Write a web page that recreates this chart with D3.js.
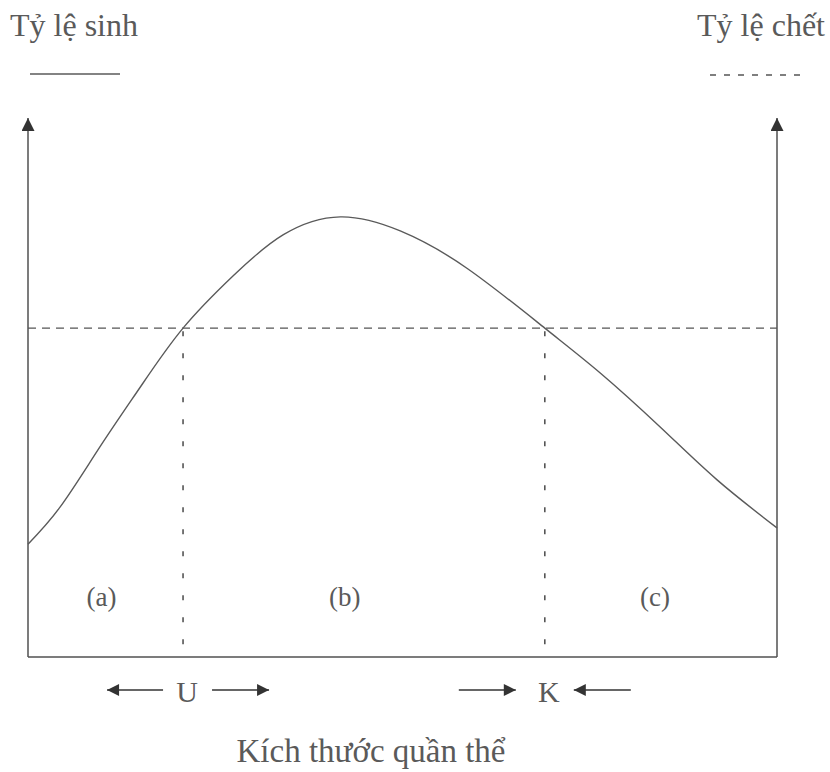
<!DOCTYPE html>
<html>
  <head>
    <meta charset="utf-8">
    <title>Tỷ lệ sinh, tỷ lệ chết và kích thước quần thể</title>
    <script src="https://cdn.jsdelivr.net/npm/d3@7"></script>
    <style>
      body { margin: 0; background: #fff; }
      svg { display: block; }
      text { font-family: "Liberation Serif", "DejaVu Serif", serif; fill: #5a5a5a; }
      .axis { stroke: #505050; stroke-width: 1.5; fill: none; }
      .birth { stroke: #5a5a5a; stroke-width: 1.4; fill: none; }
      .death { stroke: #555; stroke-width: 1.4; stroke-dasharray: 8 6; fill: none; }
      .drop { stroke: #555; stroke-width: 1.6; stroke-dasharray: 5 17; fill: none; }
      .arrow { stroke: #333; stroke-width: 1.5; fill: none; }
    </style>
  </head>

  <body>
    <svg id="chart" width="830" height="772">
      <defs>
        <marker id="head" viewBox="0 0 10 10" refX="10" refY="5" markerWidth="15" markerHeight="12" markerUnits="userSpaceOnUse" orient="auto">
          <path d="M0,0 L10,5 L0,10 Z" fill="#333"></path>
        </marker>
        <marker id="axisHead" viewBox="0 0 10 10" refX="10" refY="5" markerWidth="15" markerHeight="13" markerUnits="userSpaceOnUse" orient="auto">
          <path d="M0,0 L10,5 L0,10 Z" fill="#333"></path>
        </marker>
      </defs>
    </svg>

    <script>
      // data (population size 0-100, rate 0-100)
      sizes = [0, 4.3, 9.6, 15.0, 20.7, 27.4, 34.1, 41.7, 49.7, 58.6, 69.0, 76.4, 84.4, 92.0, 100];
      birthRate = [20.9, 27.8, 38.9, 50.0, 60.9, 70.6, 78.2, 81.5, 78.9, 72.0, 60.9, 52.6, 42.6, 32.8, 23.9];
      deathRate = 60.9;
      thresholds = [20.7, 69.0];
      thresholdLabels = ["U", "K"];
      zoneLabels = ["(a)", "(b)", "(c)"];
      zonePositions = [9.8, 42.3, 83.7];

      chart = d3.select("#chart");

      margin = { top: 117, right: 53, bottom: 115, left: 28 };
      width = 830;
      height = 772;

      x = d3.scaleLinear()
        .domain([0, 100])
        .range([margin.left, width - margin.right]);
      y = d3.scaleLinear()
        .domain([0, 100])
        .range([height - margin.bottom, margin.top]);

      birthData = sizes.map(function(s, i) { return { size: s, rate: birthRate[i] }; });

      line = d3.line()
        .x(function(d) { return x(d.size); })
        .y(function(d) { return y(d.rate); })
        .curve(d3.curveNatural);

      // axes
      chart.append("line").attr("class", "axis")
        .attr("x1", x(0)).attr("x2", x(100))
        .attr("y1", y(0)).attr("y2", y(0));
      [0, 100].forEach(function(v) {
        chart.append("line").attr("class", "axis")
          .attr("x1", x(v)).attr("x2", x(v))
          .attr("y1", y(0)).attr("y2", y(100) + 1)
          .attr("marker-end", "url(#axisHead)");
      });

      // death rate
      chart.append("line").attr("class", "death")
        .attr("x1", x(0)).attr("x2", x(100))
        .attr("y1", y(deathRate)).attr("y2", y(deathRate));

      // thresholds
      chart.selectAll(".drop")
        .data(thresholds)
        .enter().append("line")
          .attr("class", "drop")
          .attr("x1", function(d) { return x(d); })
          .attr("x2", function(d) { return x(d); })
          .attr("y1", y(deathRate) + 3)
          .attr("y2", y(0));

      // birth rate
      chart.append("path").attr("class", "birth")
        .datum(birthData)
        .attr("d", line);

      // zone labels
      chart.selectAll(".zone")
        .data(zoneLabels)
        .enter().append("text")
          .attr("class", "zone")
          .attr("x", function(d, i) { return x(zonePositions[i]); })
          .attr("y", y(0) - 51)
          .attr("text-anchor", "middle")
          .style("font-size", "27px")
          .text(function(d) { return d; });

      // U and K
      arrowY = y(0) + 33;
      chart.selectAll(".threshold")
        .data(thresholdLabels)
        .enter().append("text")
          .attr("class", "threshold")
          .attr("x", function(d, i) { return x(thresholds[i]) + 4; })
          .attr("y", arrowY + 12)
          .attr("text-anchor", "middle")
          .style("font-size", "30px")
          .text(function(d) { return d; });

      // U arrows point away, K arrows point in
      arrows = [
        { from: x(thresholds[0]) - 20, to: x(thresholds[0]) - 76 },
        { from: x(thresholds[0]) + 29, to: x(thresholds[0]) + 86 },
        { from: x(thresholds[1]) - 86, to: x(thresholds[1]) - 29 },
        { from: x(thresholds[1]) + 86, to: x(thresholds[1]) + 29 }
      ];
      chart.selectAll(".arrow")
        .data(arrows)
        .enter().append("line")
          .attr("class", "arrow")
          .attr("x1", function(d) { return d.from; })
          .attr("x2", function(d) { return d.to; })
          .attr("y1", arrowY).attr("y2", arrowY)
          .attr("marker-end", "url(#head)");

      // axis title
      chart.append("text")
        .attr("x", 371)
        .attr("y", 762)
        .attr("text-anchor", "middle")
        .style("font-size", "33px")
        .text("Kích thước quần thể");

      // legend
      chart.append("text")
        .attr("x", 10).attr("y", 36)
        .style("font-size", "32px")
        .text("Tỷ lệ sinh");
      chart.append("line").attr("class", "birth")
        .attr("x1", 30).attr("x2", 120)
        .attr("y1", 74).attr("y2", 74);

      chart.append("text")
        .attr("x", 825).attr("y", 36)
        .attr("text-anchor", "end")
        .style("font-size", "32px")
        .text("Tỷ lệ chết");
      chart.append("line").attr("class", "death")
        .attr("x1", 710).attr("x2", 800)
        .attr("y1", 75).attr("y2", 75)
        .style("stroke-dasharray", "6 8");
    </script>
  </body>
</html>
